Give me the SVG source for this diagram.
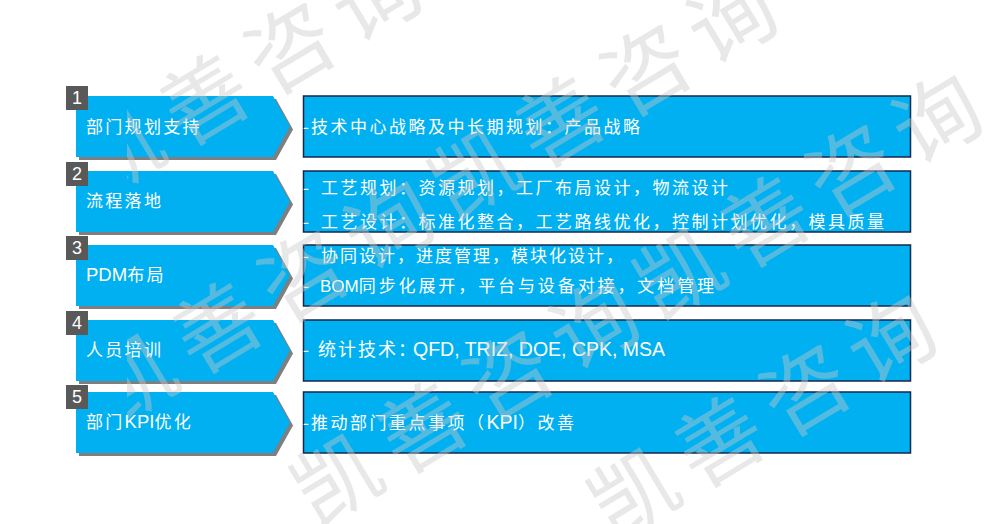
<svg xmlns="http://www.w3.org/2000/svg" width="1000" height="524" viewBox="0 0 1000 524">
<defs>
<style>
.chev{fill:#00B0F0}
.shadow{fill:#7f7f7f}
.num{fill:#595959}
.numt{fill:#fff;font-family:"Liberation Sans",Arial,sans-serif;font-size:18px;text-anchor:middle}
.lab{fill:#fff;font-family:"Noto Sans CJK SC","Liberation Sans",sans-serif;font-size:17px;letter-spacing:2.3px}
.box{fill:#00B0F0;stroke:#14284a;stroke-width:1.5}
.txt{fill:#fff;font-family:"Noto Sans CJK SC","Liberation Sans",sans-serif;font-size:17px;letter-spacing:2.5px}
.lat{font-family:"Liberation Sans",Arial,sans-serif;font-size:19.5px;letter-spacing:0}
.wm{fill:#c8c8c8;fill-opacity:0.42;font-family:"Noto Sans CJK SC",sans-serif;font-size:86px;letter-spacing:14px}
</style>
<path id="chevShape" d="M0,0 L197,0 L214,30.5 L197,61 L0,61 Z"/>
<clipPath id="wmClip"><rect x="127" y="0" width="873" height="524"/></clipPath>
</defs>
<rect width="1000" height="524" fill="#fff"/>

<g id="connectors"></g>

<g id="step-1">
<use href="#chevShape" class="shadow" x="79" y="99"/>
<use href="#chevShape" class="chev" x="76" y="96"/>
<rect class="num" x="66" y="86" width="22" height="24"/>
<text class="numt" x="77" y="104">1</text>
<text class="lab" x="86" y="133">部门规划支持</text>
</g>
<g id="detail-1">
<rect class="box" x="303.5" y="96" width="607" height="61"/>
<text class="txt" y="133"><tspan x="303">-</tspan><tspan x="311">技术中心战略及中长期规划：产品战略</tspan></text>
</g>

<g id="step-2">
<use href="#chevShape" class="shadow" x="79" y="174"/>
<use href="#chevShape" class="chev" x="76" y="171"/>
<rect class="num" x="66" y="162" width="22" height="24"/>
<text class="numt" x="77" y="180">2</text>
<text class="lab" x="86" y="207">流程落地</text>
</g>
<g id="detail-2">
<rect class="box" x="303.5" y="171" width="607" height="61"/>
<text class="txt" y="194"><tspan x="303">-</tspan><tspan x="321">工艺规划：资源规划，工厂布局设计，物流设计</tspan></text>
<text class="txt" y="228"><tspan x="303">-</tspan><tspan x="321">工艺设计：标准化整合，工艺路线优化，控制计划优化，模具质量</tspan></text>
</g>

<g id="step-3">
<use href="#chevShape" class="shadow" x="79" y="248"/>
<use href="#chevShape" class="chev" x="76" y="245"/>
<rect class="num" x="66" y="236" width="22" height="24"/>
<text class="numt" x="77" y="254">3</text>
<text class="lab" x="86" y="281"><tspan class="lat" style="font-size:18.5px">PDM</tspan>布局</text>
</g>
<g id="detail-3">
<rect class="box" x="303.5" y="245" width="607" height="61"/>
<text class="txt" y="262" style="letter-spacing:2px"><tspan x="303">-</tspan><tspan x="321">协同设计，进度管理，模块化设计，</tspan></text>
<text class="txt" y="292"><tspan x="303">-</tspan><tspan x="320" class="lat" style="font-size:17px">BOM</tspan><tspan style="letter-spacing:2.9px">同步化展开，平台与设备对接，文档管理</tspan></text>
</g>

<g id="step-4">
<use href="#chevShape" class="shadow" x="79" y="323"/>
<use href="#chevShape" class="chev" x="76" y="320"/>
<rect class="num" x="66" y="311" width="22" height="24"/>
<text class="numt" x="77" y="329">4</text>
<text class="lab" x="86" y="356">人员培训</text>
</g>
<g id="detail-4">
<rect class="box" x="303.5" y="320" width="607" height="61"/>
<text class="txt" y="356"><tspan x="303">-</tspan><tspan x="318" style="font-size:18px;letter-spacing:2px">统计技术：</tspan><tspan x="413" class="lat">QFD, TRIZ, DOE, CPK, MSA</tspan></text>
</g>

<g id="step-5">
<use href="#chevShape" class="shadow" x="79" y="395"/>
<use href="#chevShape" class="chev" x="76" y="392"/>
<rect class="num" x="66" y="385" width="22" height="24"/>
<text class="numt" x="77" y="403">5</text>
<text class="lab" x="86" y="428">部门<tspan class="lat" style="font-size:18.5px">KPI</tspan>优化</text>
</g>
<g id="detail-5">
<rect class="box" x="303.5" y="392" width="607" height="61"/>
<text class="txt" y="429"><tspan x="303">-</tspan><tspan x="311">推动部门重点事项（</tspan><tspan class="lat">KPI</tspan><tspan>）改善</tspan></text>
</g>

<g id="watermark" clip-path="url(#wmClip)">
<text class="wm" transform="translate(98,200) rotate(-31)">凯善咨询</text>
<text class="wm" transform="translate(111,428) rotate(-31)">凯善咨询凯善咨询</text>
<text class="wm" transform="translate(316,528) rotate(-31)">凯善咨询凯善咨询</text>
<text class="wm" transform="translate(613,542) rotate(-31)">凯善咨询</text>
</g>
</svg>
